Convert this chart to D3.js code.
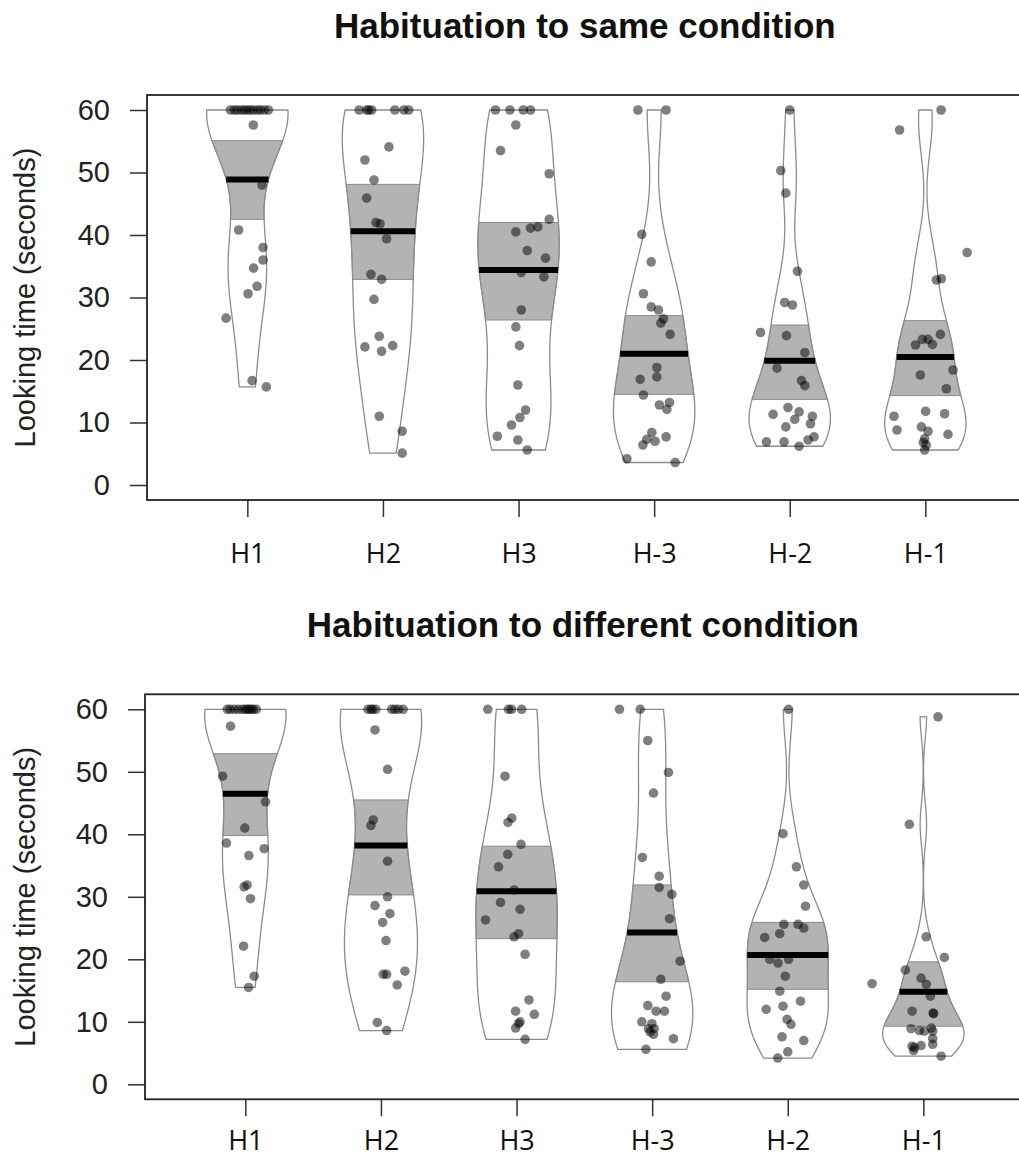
<!DOCTYPE html>
<html>
<head>
<meta charset="utf-8">
<script src="https://cdn.jsdelivr.net/npm/d3@7"></script>
<style>
  body { margin: 0; background: #fff; }
  svg { display: block; }
</style>
</head>
<body>
<div id="chart"></div>
<script>
// categories and axis
const categories = ["H1", "H2", "H3", "H-3", "H-2", "H-1"];
const yTicks = [0, 10, 20, 30, 40, 50, 60];
const panelTitles = ["Habituation to same condition", "Habituation to different condition"];
const yLabel = "Looking time (seconds)";

// Habituation to same condition: looking times per trial (s)
const sameValues = [
  [60, 60, 60, 60, 60, 60, 60, 60, 60, 60, 60, 60, 57.6, 48.0, 40.8, 38.0, 36.0, 34.7, 31.8, 30.6, 26.7, 16.7, 15.7],
  [60, 60, 60, 60, 60, 60, 60, 54.1, 52.0, 48.8, 45.9, 42.0, 41.8, 39.4, 33.7, 32.9, 29.7, 23.8, 22.1, 21.4, 22.3, 11.0, 8.6, 5.1],
  [60, 60, 60, 60, 57.6, 53.5, 49.8, 42.5, 41.1, 41.3, 40.5, 37.5, 36.3, 34.0, 33.3, 28.0, 25.3, 22.3, 16.0, 12.0, 10.8, 9.6, 7.8, 7.2, 5.6],
  [60, 60, 40.1, 35.7, 30.6, 28.5, 28.0, 26.6, 25.9, 24.1, 18.8, 17.3, 16.9, 14.4, 13.2, 12.8, 12.1, 8.4, 7.7, 7.3, 7.0, 6.4, 4.2, 3.6],
  [60, 50.3, 46.7, 34.2, 29.2, 28.8, 24.4, 23.9, 21.2, 18.7, 16.7, 15.9, 12.4, 11.7, 11.3, 11.0, 10.5, 9.8, 9.3, 7.7, 7.2, 6.9, 6.9, 6.2],
  [60, 56.8, 37.2, 33.0, 32.8, 24.1, 23.3, 23.3, 22.5, 22.4, 18.4, 17.6, 15.4, 11.8, 11.4, 11.0, 9.3, 8.8, 8.6, 8.1, 7.4, 6.8, 6.4, 5.6]
];
// horizontal jitter of each point (category units)
const sameJitter = [
  [-0.125, -0.096, -0.074, -0.044, -0.022, 0, 0.022, 0.044, 0.074, 0.096, 0.125, 0.155, 0.044, 0.108, -0.064, 0.116, 0.116, 0.046, 0.072, 0.005, -0.157, 0.035, 0.140],
  [-0.175, -0.120, -0.105, -0.083, 0.088, 0.155, 0.190, 0.044, -0.133, -0.066, -0.120, -0.052, -0.022, 0.027, -0.088, -0.010, -0.066, -0.027, -0.133, -0.010, 0.072, -0.027, 0.142, 0.142],
  [-0.170, -0.064, 0.035, 0.088, -0.020, -0.133, 0.226, 0.226, 0.088, 0.142, -0.020, 0.064, 0.199, 0.020, 0.187, 0.020, -0.020, 0.007, -0.005, 0.052, 0.010, -0.052, -0.157, -0.005, 0.064],
  [-0.120, 0.088, -0.091, -0.022, -0.079, -0.022, 0.032, 0.069, 0.049, 0.118, 0.020, 0.020, -0.103, -0.079, 0.113, 0.039, 0.094, -0.017, 0.088, -0.054, 0.007, -0.083, -0.201, 0.155],
  [0.000, -0.066, -0.029, 0.057, -0.037, 0.020, -0.216, -0.024, 0.111, -0.094, 0.086, 0.111, -0.013, 0.069, -0.123, 0.167, 0.037, 0.153, -0.029, 0.179, 0.135, -0.172, -0.042, 0.069],
  [0.116, -0.190, 0.308, 0.118, 0.081, 0.111, -0.022, 0.020, 0.052, -0.072, 0.204, -0.037, 0.155, 0.002, 0.142, -0.231, -0.029, -0.209, 0.020, 0.167, -0.005, -0.015, 0.007, -0.005]
];
const sameMeans = [48.9, 40.6, 34.4, 21.0, 19.9, 20.5];
const sameInfLow = [42.5, 32.9, 26.4, 14.5, 13.7, 14.3];
const sameInfHigh = [55.1, 48.1, 42.0, 27.1, 25.6, 26.3];

// Habituation to different condition
const diffValues = [
  [60, 60, 60, 60, 60, 60, 60, 60, 60, 60, 60, 57.3, 49.3, 45.2, 41.0, 38.6, 37.7, 36.6, 31.9, 31.6, 29.7, 22.1, 17.3, 15.5],
  [60, 60, 60, 60, 60, 60, 60, 60, 56.7, 50.4, 42.3, 41.4, 35.7, 30.0, 28.6, 27.3, 25.9, 23.0, 18.1, 17.6, 17.6, 15.9, 9.9, 8.6],
  [60, 60, 60, 60, 49.3, 42.6, 41.9, 38.4, 36.8, 34.8, 31.1, 29.1, 28.0, 26.3, 24.1, 23.6, 20.8, 13.5, 11.7, 11.2, 10.0, 9.7, 9.0, 7.2],
  [60, 60, 55.0, 49.9, 46.6, 36.3, 33.3, 31.5, 30.4, 26.5, 19.7, 16.8, 14.1, 12.6, 11.7, 11.7, 10.0, 9.7, 8.9, 8.9, 8.4, 8.0, 7.3, 5.6],
  [60, 40.1, 34.8, 31.9, 28.5, 25.6, 25.6, 25.0, 24.1, 23.5, 20.0, 20.0, 19.4, 17.3, 14.9, 13.3, 12.5, 12.0, 10.4, 9.6, 7.6, 7.0, 5.2, 4.2],
  [58.8, 41.6, 23.6, 20.3, 18.3, 17.0, 16.1, 16.0, 14.1, 11.7, 11.4, 11.3, 9.0, 8.9, 8.6, 8.5, 8.5, 7.3, 6.4, 6.2, 6.1, 5.9, 5.4, 4.5]
];
const diffJitter = [
  [-0.133, -0.111, -0.081, -0.052, -0.022, 0, 0.015, 0.029, 0.044, 0.059, 0.081, -0.109, -0.168, 0.149, -0.004, -0.139, 0.139, 0.026, 0.013, -0.009, 0.038, -0.013, 0.065, 0.024],
  [-0.096, -0.074, -0.061, -0.037, 0.079, 0.103, 0.128, 0.164, -0.044, 0.049, -0.057, -0.074, 0.049, 0.049, -0.044, 0.066, 0.013, 0.037, 0.177, 0.017, 0.042, 0.120, -0.027, 0.042],
  [-0.212, -0.060, -0.037, 0.038, -0.085, -0.035, -0.063, 0.033, -0.065, -0.133, -0.018, -0.118, 0.026, -0.229, 0.015, -0.018, 0.063, 0.092, -0.007, 0.131, 0.026, 0.015, -0.007, 0.063],
  [-0.241, -0.088, -0.032, 0.120, 0.010, -0.072, 0.052, 0.052, 0.145, 0.128, 0.206, 0.064, 0.103, -0.032, 0.029, 0.091, -0.076, -0.002, 0.015, -0.027, -0.015, 0.010, 0.157, -0.046],
  [0.006, -0.035, 0.064, 0.118, 0.131, -0.029, 0.076, 0.118, -0.059, -0.170, -0.133, 0.006, -0.072, -0.018, -0.059, 0.094, -0.035, -0.159, -0.005, 0.024, -0.042, 0.118, 0, -0.074],
  [0.108, -0.103, 0.020, 0.155, -0.133, -0.017, -0.378, 0.022, 0.052, -0.083, 0.072, 0.076, 0.059, -0.091, -0.029, 0.007, 0.069, 0.069, 0.069, -0.017, -0.083, -0.066, -0.072, 0.131]
];
const diffMeans = [46.5, 38.2, 30.9, 24.3, 20.7, 14.8];
const diffInfLow = [39.8, 30.3, 23.3, 16.4, 15.2, 9.3];
const diffInfHigh = [52.9, 45.5, 38.1, 31.9, 25.9, 19.6];

const W = 1019, H = 1167;
const beanMax = 0.3; // half-width of the widest part of a bean, category units

const panels = [
  { title: panelTitles[0], values: sameValues, jitter: sameJitter, means: sameMeans, lo: sameInfLow, hi: sameInfHigh,
    left: 147, top: 95, titleY: 38, labelPad: 27 },
  { title: panelTitles[1], values: diffValues, jitter: diffJitter, means: diffMeans, lo: diffInfLow, hi: diffInfHigh,
    left: 145, top: 694.3, titleY: 637, labelPad: 15 }
];
const plotW = 878.7, plotH = 405;

const svg = d3.select("#chart").append("svg")
  .attr("width", W).attr("height", H)
  .attr("viewBox", `0 0 ${W} ${H}`);

// R style bw.nrd0
function bwNrd0(x) {
  const s = d3.deviation(x);
  const sorted = x.slice().sort(d3.ascending);
  const iqr = d3.quantileSorted(sorted, 0.75) - d3.quantileSorted(sorted, 0.25);
  let lo = Math.min(s, iqr / 1.34);
  if (!lo) lo = s || Math.abs(x[0]) || 1;
  return 0.9 * lo * Math.pow(x.length, -0.2);
}

function makeDensity(x) {
  const bw = bwNrd0(x);
  const n = x.length;
  return y => d3.sum(x, v => Math.exp(-0.5 * ((y - v) / bw) ** 2)) / (n * bw * Math.sqrt(2 * Math.PI));
}

panels.forEach(p => {
  const g = svg.append("g");
  const bottom = p.top + plotH;

  const x = d3.scaleLinear().domain([0.26, 6.74]).range([p.left, p.left + plotW]);
  const y = d3.scaleLinear().domain([-2.4, 62.4]).range([bottom, p.top]);

  // title
  g.append("text")
    .attr("x", p.left + plotW / 2 - 1.5).attr("y", p.titleY)
    .attr("text-anchor", "middle")
    .style("font-family", "'Liberation Sans', Arial, sans-serif")
    .style("font-weight", "bold").style("font-size", "35px")
    .attr("fill", "#111")
    .text(p.title);

  // y axis
  const yAxis = g.append("g")
    .attr("transform", `translate(${p.left},0)`)
    .call(d3.axisLeft(y).tickValues(yTicks).tickSize(17).tickPadding(20).tickFormat(d3.format("d")));
  yAxis.select(".domain").remove();
  yAxis.selectAll(".tick line").attr("stroke", "#333").attr("stroke-width", 1.5);
  yAxis.selectAll(".tick text")
    .style("font-family", "'Liberation Sans', Arial, sans-serif")
    .style("font-size", "29px").attr("fill", "#222");

  g.append("text")
    .attr("transform", `translate(35,${p.top + plotH / 2}) rotate(-90)`)
    .attr("text-anchor", "middle")
    .style("font-family", "'Liberation Sans', Arial, sans-serif")
    .style("font-size", "29px").attr("fill", "#222")
    .text(yLabel);

  // x axis
  const xAxis = g.append("g")
    .attr("transform", `translate(0,${bottom})`)
    .call(d3.axisBottom(x).tickValues(d3.range(1, categories.length + 1)).tickSize(17).tickPadding(p.labelPad)
      .tickFormat(d => categories[d - 1]));
  xAxis.select(".domain").remove();
  xAxis.selectAll(".tick line").attr("stroke", "#333").attr("stroke-width", 1.5);
  xAxis.selectAll(".tick text")
    .style("font-family", "'Open Sans', sans-serif")
    .style("font-size", "27px").attr("fill", "#111");

  // beans
  categories.forEach((cat, i) => {
    const c = i + 1;
    const vals = p.values[i];
    const dens = makeDensity(vals);
    const vmin = d3.min(vals), vmax = d3.max(vals);
    const grid = d3.range(0, 301).map(k => vmin + (vmax - vmin) * k / 300);
    const dmax = d3.max(grid, dens);
    const half = v => dens(v) / dmax * beanMax;
    const rows = grid.map(v => ({ v, w: half(v) }));

    const area = d3.area()
      .y(d => y(d.v))
      .x0(d => x(c - d.w))
      .x1(d => x(c + d.w));

    // bean background
    g.append("path").attr("d", area(rows)).attr("fill", "#fff").attr("stroke", "none");

    // inference band, clipped to the bean
    const lo = Math.max(p.lo[i], vmin), hi = Math.min(p.hi[i], vmax);
    const band = [{ v: lo, w: half(lo) }]
      .concat(rows.filter(d => d.v > lo && d.v < hi))
      .concat([{ v: hi, w: half(hi) }]);
    g.append("path").attr("d", area(band))
      .attr("fill", "#b3b3b3").attr("stroke", "#8c8c8c").attr("stroke-width", 1);

    // bean outline
    g.append("path").attr("d", area(rows))
      .attr("fill", "none").attr("stroke", "#8c8c8c").attr("stroke-width", 1.3);

    // raw points
    g.selectAll(null).data(vals.map((v, k) => ({ v, j: p.jitter[i][k] })))
      .enter().append("circle")
      .attr("cx", d => x(c + d.j))
      .attr("cy", d => y(d.v))
      .attr("r", 4.8)
      .attr("fill", "#000").attr("fill-opacity", 0.5);

    // mean line
    const m = p.means[i], mw = half(m);
    g.append("line")
      .attr("x1", x(c - mw)).attr("x2", x(c + mw))
      .attr("y1", y(m)).attr("y2", y(m))
      .attr("stroke", "#000").attr("stroke-width", 6);
  });

  // frame
  g.append("rect")
    .attr("x", p.left).attr("y", p.top)
    .attr("width", plotW).attr("height", plotH)
    .attr("fill", "none").attr("stroke", "#222").attr("stroke-width", 1.8);
});
</script>
</body>
</html>
